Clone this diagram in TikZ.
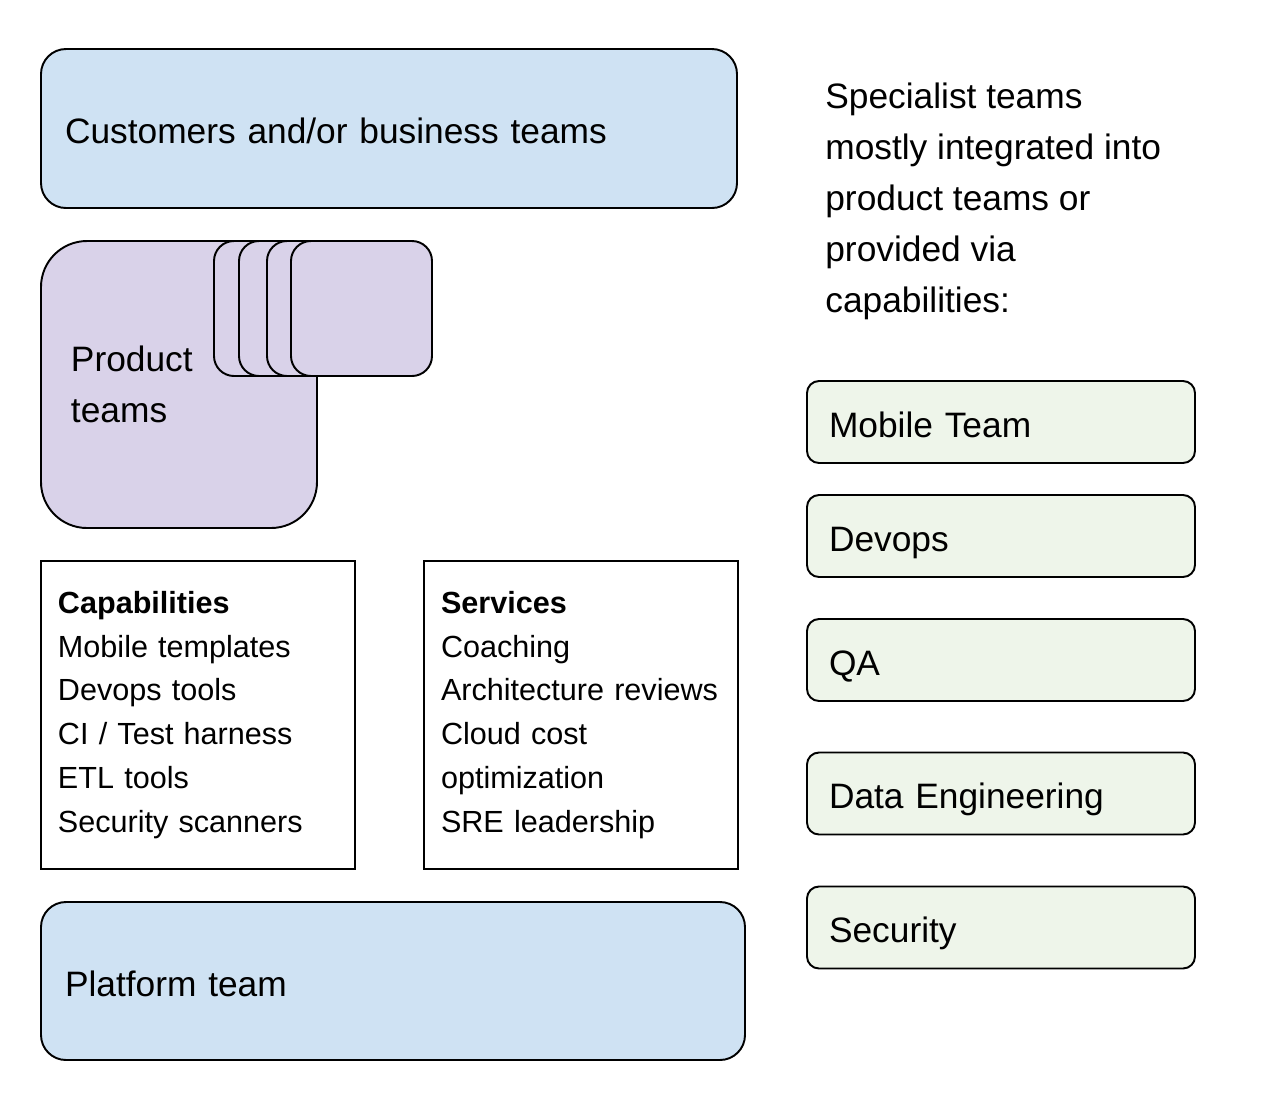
\documentclass[tikz,border=0pt]{standalone}
\usepackage{fontspec}
\setmainfont{Liberation Sans}
\definecolor{teamblue}{HTML}{CFE2F3}
\definecolor{teamlilac}{HTML}{D9D2E9}
\definecolor{teamgreen}{HTML}{EEF5EA}
\tikzset{
	bigfont/.style={font=\fontsize{20.1}{29}\selectfont},
	smallfont/.style={font=\fontsize{17.4}{25}\selectfont},
	oneline/.style={text height=17.5pt, text depth=0pt},
	bluebox/.style={draw, rectangle, rounded corners=0.5cm, fill=teamblue, line width=1.1pt,
		bigfont, oneline, align=left, inner xsep=0.48cm},
	lilacbox/.style={draw, rectangle, fill=teamlilac, line width=1.1pt},
	greenbox/.style={draw, rectangle, rounded corners=0.24cm, fill=teamgreen, line width=1.1pt,
		bigfont, oneline, align=left, inner xsep=0.44cm, minimum width=7.76cm, minimum height=1.64cm,
		text width=6.88cm},
	listbox/.style={draw, rectangle, line width=0.9pt, smallfont, align=left, inner xsep=0.34cm,
		minimum width=6.28cm, minimum height=6.16cm, text width=5.6cm}
}
\begin{document}
\begin{tikzpicture}
	\useasboundingbox (0,0) rectangle (25.56,-22.04);
	
	%Outer layers
	\node (customers) at (7.78,-2.57) [bluebox, minimum width=13.92cm, minimum height=3.18cm,
	text width=12.96cm]{Customers and/or business teams};
	\node (platform) at (7.86,-19.62) [bluebox, minimum width=14.08cm, minimum height=3.16cm,
	text width=13.12cm]{Platform team};
	
	%Product teams with their stack
	\node (productTeams) at (3.58,-7.69) [lilacbox, rounded corners=0.92cm, minimum width=5.52cm,
	minimum height=5.74cm, bigfont, align=left, inner xsep=0.6cm, text width=4.32cm]{Product\\teams};
	\node (stack1) at (5.69,-6.17) [lilacbox, rounded corners=0.4cm, minimum width=2.82cm, minimum height=2.7cm]{};
	\node (stack2) at (6.19,-6.17) [lilacbox, rounded corners=0.4cm, minimum width=2.82cm, minimum height=2.7cm]{};
	\node (stack3) at (6.75,-6.17) [lilacbox, rounded corners=0.4cm, minimum width=2.82cm, minimum height=2.7cm]{};
	\node (stack4) at (7.23,-6.17) [lilacbox, rounded corners=0.4cm, minimum width=2.82cm, minimum height=2.7cm]{};
	
	%Platform offers
	\node (capabilities) at (3.96,-14.3) [listbox]{\textbf{Capabilities}\\Mobile templates\\Devops tools\\
		CI / Test harness\\ETL tools\\Security scanners};
	\node (services) at (11.62,-14.3) [listbox]{\textbf{Services}\\Coaching\\Architecture reviews\\
		Cloud cost\\optimization\\SRE leadership};
	
	%Specialists
	\node (specialistNote) at (16.5,-1.66) [anchor=north west, inner sep=0, bigfont, align=left]{Specialist teams\\
		mostly integrated into\\product teams or\\provided via\\capabilities:};
	\node (mobileTeam) at (20.02,-8.44) [greenbox]{Mobile Team};
	\node (devops) at (20.02,-10.72) [greenbox]{Devops};
	\node (qa) at (20.02,-13.2) [greenbox]{QA};
	\node (dataEng) at (20.02,-15.87) [greenbox]{Data Engineering};
	\node (security) at (20.02,-18.55) [greenbox]{Security};
	
\end{tikzpicture}
\end{document}
